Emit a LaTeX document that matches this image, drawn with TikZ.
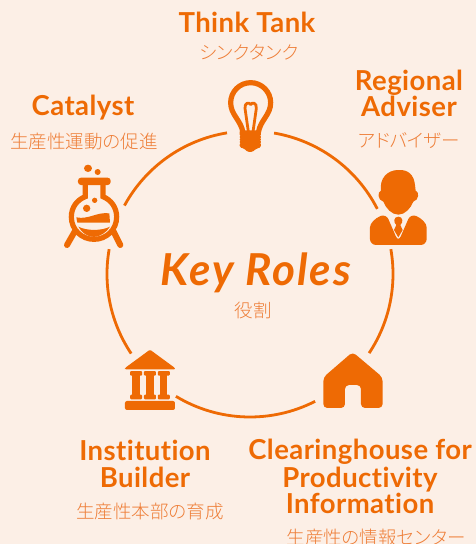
\documentclass[tikz,border=0pt]{standalone}
\usepackage{fontspec}
\setmainfont[BoldFont={Lato Bold},BoldItalicFont={Lato Bold Italic},RawFeature={-liga;-clig;-dlig}]{Lato}
\newfontfamily\jpfont[RawFeature={+palt}]{Noto Sans CJK JP Light}
\definecolor{bgc}{HTML}{FCEFE6}
\definecolor{org}{HTML}{EE6A04}
\definecolor{jpc}{HTML}{EE7D36}
\tikzset{
 title/.style={text=org,font=\fontsize{27.5}{27}\selectfont\bfseries\addfontfeature{LetterSpace=1.6},inner sep=0pt,anchor=base},
 sub/.style={text=jpc,font=\fontsize{18.5}{18}\selectfont\jpfont,inner sep=0pt},
 ring/.style={draw=org,line width=2.8pt},
 ink/.style={fill=org,draw=none},
 icon/.style={draw=org,line width=5pt},
}
\begin{document}
\begin{tikzpicture}[x=1pt,y=-1pt]
\useasboundingbox (0,0) rectangle (476,544);
\fill[bgc] (0,0) rectangle (476,544);
% ring
\coordinate (c) at (250,274);
\foreach \a/\b in {208.6/260.75,279.7/332.9,350/393.6,62.9/121.2,146.2/190}{
  \draw[ring] (c) ++(\a:143) arc[start angle=\a,end angle=\b,radius=143];
}
% texts
\node[title] (tt) at (247,32) {Think Tank};
\node[sub] (tts) at (249,52) {シンクタンク};
\node[title] (ra) at (409,90) {Regional};
\node[title] (rb) at (409,116) {Adviser};
\node[sub] (ras) at (409,141) {アドバイザー};
\node[title] (ca) at (83,115) {Catalyst};
\node[sub] (cas) at (84,141) {生産性運動の促進};
\node[title] (ib) at (145,460) {Institution};
\node[title] (ic) at (145,487) {Builder};
\node[sub] (ibs) at (150,511) {生産性本部の育成};
\node[title] (ch) at (360,459) {Clearinghouse for};
\node[title] (ci) at (360,487) {Productivity};
\node[title] (cj) at (360,513) {Information};
\node[sub] (chs) at (376,537) {生産性の情報センター};
\node[text=org,font=\fontsize{44}{44}\selectfont\bfseries\itshape\addfontfeature{LetterSpace=4.5},inner sep=0pt,anchor=base] (kr) at (256,285) {Key Roles};
\node[sub] (krs) at (253,310) {役割};
% bulb
\begin{scope}[shift={(215,70)},x=0.3333pt,y=-0.3333pt]
 \draw[icon,line width=5.2pt] (84,188) .. controls (78,150) and (47,135) .. (47,98) .. controls (47,65) and (74,38) .. (107,38) .. controls (140,38) and (167,65) .. (167,98) .. controls (167,135) and (136,150) .. (130,188);
 \draw[draw=org,line width=2.8pt,line join=round] (100,185) -- (90,115) .. controls (88,97) and (104,96) .. (107,104) .. controls (110,96) and (126,97) .. (124,115) -- (114,185);
 \fill[ink,rounded corners=1.5pt] (74,181) -- (138,181) -- (138,198) -- (134,201) -- (138,205) -- (138,213) -- (134,216) -- (138,220) -- (138,232) -- (124,236) -- (112,246) -- (98,246) -- (88,236) -- (74,232) -- (74,220) -- (78,216) -- (74,213) -- (74,205) -- (78,201) -- (74,198) -- cycle;
\end{scope}
% flask
\begin{scope}[shift={(55,155)},x=0.3333pt,y=-0.3333pt]
 \fill[ink] (99,40) circle[x radius=12,y radius=11];
 \fill[ink] (128,51) circle[radius=9];
 \fill[ink,rounded corners=3pt] (69,68) rectangle (167,90);
 \draw[icon,line width=5.2pt] (91,85) -- (91,125) .. controls (65,135) and (49,158) .. (49,186) .. controls (49,224) and (80,253) .. (117,253) .. controls (154,253) and (185,224) .. (185,186) .. controls (185,158) and (169,135) .. (144,125) -- (144,85);
 \fill[ink] (95,160) circle[radius=11];
 \fill[ink] (119,136) circle[radius=8];
 \fill[ink] (64,187) .. controls (100,195) and (125,170) .. (163,175) -- (165,203) -- (67,203) -- cycle;
 \fill[ink] (70,215) .. controls (95,228) and (140,228) .. (165,215) .. controls (155,232) and (135,245) .. (117,246) .. controls (95,245) and (80,232) .. (70,215) -- cycle;
 \draw[org,line width=6pt,line cap=round] (60,228) -- (36,270);
 \draw[org,line width=6pt,line cap=round] (175,228) -- (196,270);
\end{scope}
% person
\begin{scope}[shift={(300,150)},x=0.3333pt,y=-0.3333pt]
 \fill[ink,rounded corners=6pt] (258,191) .. controls (225,205) and (210,220) .. (210,250) -- (210,285) -- (380,285) -- (380,250) .. controls (380,220) and (365,205) .. (332,191) -- (295,276) -- cycle;
 \fill[ink] (295,60) .. controls (325,58) and (342,75) .. (345,105) -- (347,122) .. controls (358,125) and (358,150) .. (340,155) .. controls (332,175) and (315,194) .. (295,194) .. controls (275,194) and (258,175) .. (250,155) .. controls (232,150) and (232,125) .. (243,122) .. controls (238,85) and (262,60) .. (295,60) -- cycle;
 \fill[ink] (295,200) .. controls (310,200) and (310,218) .. (301,225) -- (308,240) -- (295,262) -- (282,240) -- (289,225) .. controls (280,218) and (280,200) .. (295,200) -- cycle;
\end{scope}
% temple and house
\begin{scope}[shift={(100,330)},x=0.3333pt,y=-0.3333pt]
 \fill[ink,rounded corners=1pt] (75,118) -- (75,114) -- (150,59) -- (225,114) -- (225,118) -- cycle;
 \foreach \x in {108.5,150,191.5}{
  \fill[ink,rounded corners=1pt] (\x-18,123) rectangle (\x+18,137);
  \fill[ink] (\x-11,135) rectangle (\x+11,197);
  \fill[ink,rounded corners=1pt] (\x-18,194) rectangle (\x+18,208);
 }
 \fill[ink,rounded corners=2pt] (75,213) rectangle (225,240);
 \fill[ink,rounded corners=4pt] (758,66) -- (848,142) -- (848,234) -- (783,234) -- (783,165) -- (735,165) -- (735,234) -- (670,234) -- (670,142) -- cycle;
\end{scope}
\end{tikzpicture}
\end{document}
